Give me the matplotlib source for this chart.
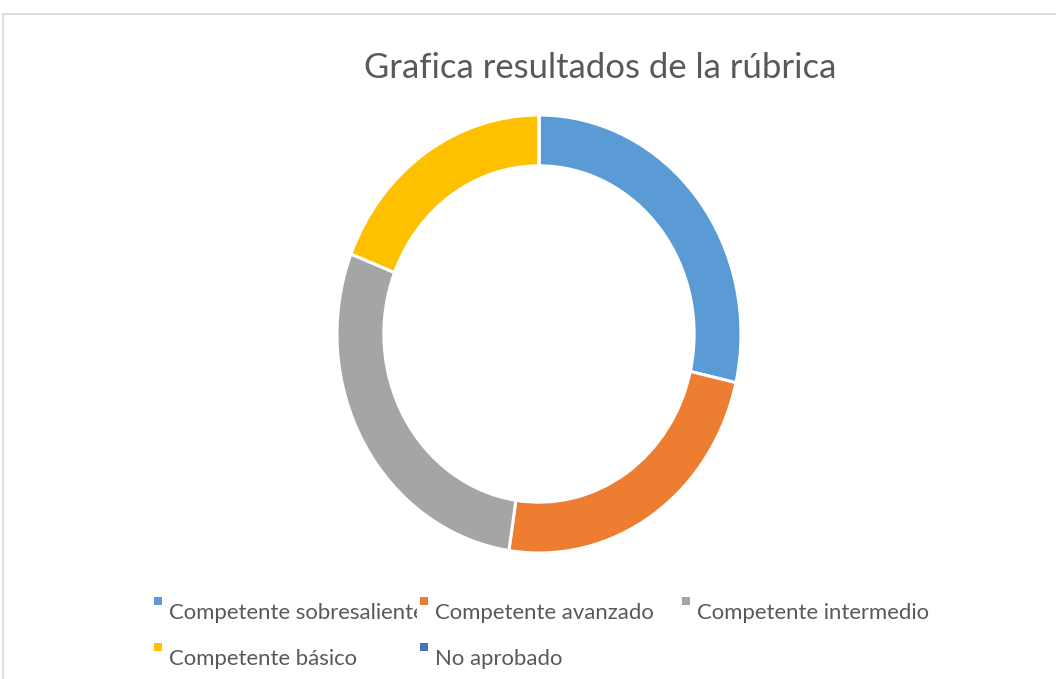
import matplotlib
matplotlib.use("Agg")
import matplotlib.pyplot as plt
from matplotlib.patches import Rectangle
from matplotlib.transforms import Bbox

categories = ["Competente sobresaliente", "Competente avanzado",
              "Competente intermedio", "Competente básico", "No aprobado"]
values = [6, 5, 6, 4, 0]
colors = ["#5B9BD5", "#ED7D31", "#A5A5A5", "#FFC000", "#4472C4"]
title = "Grafica resultados de la rúbrica"

W, H = 1056, 679
fig = plt.figure(figsize=(W / 100, H / 100), dpi=100)
FONT = "Lato"
TXT = "#595959"

# chart frame
fig.patches.append(Rectangle((3 / W, -0.1), 1.2, (H - 14) / H + 0.1,
                             transform=fig.transFigure, fill=False,
                             edgecolor="#D9D9D9", linewidth=1.3))

# donut (slightly elliptical as in reference)
cx, cy, rw, rh = 539, 334, 202, 219
ax = fig.add_axes([(cx - rw) / W, (H - cy - rh) / H, 2 * rw / W, 2 * rh / H])
ax.pie(values, colors=colors, startangle=90, counterclock=False, radius=1,
       wedgeprops=dict(width=0.232, edgecolor="white", linewidth=2.2))
ax.set_xlim(-1, 1)
ax.set_ylim(-1, 1)
ax.set_aspect("auto")
ax.axis("off")

fig.canvas.draw()
renderer = fig.canvas.get_renderer()

def fit_text(x, y, s, target_w, size0, **kw):
    t = fig.text(x / W, 1 - y / H, s, fontsize=size0, family=FONT, color=TXT, **kw)
    w = t.get_window_extent(renderer).width
    t.set_fontsize(size0 * target_w / w)
    return t

fit_text(600, 68, title, 471, 24, ha="center", va="center")

# legend
leg_pos = [(154, 611), (420, 611), (682, 611), (154, 657), (420, 657)]
ref = fig.text(0, 0, "Competente avanzado", fontsize=14, family=FONT)
lw = ref.get_window_extent(renderer).width
ref.remove()
lsize = 14 * 219 / lw
for i, (cat, col) in enumerate(zip(categories, colors)):
    mx, my = leg_pos[i]
    fig.patches.append(Rectangle((mx / W, 1 - (my - 6) / H), 8 / W, 8 / H,
                                 transform=fig.transFigure, facecolor=col,
                                 edgecolor="none"))
    t = fig.text((mx + 15) / W, 1 - (my + 2) / H, cat, fontsize=lsize,
                 family=FONT, color=TXT, ha="left", va="center")
    if i == 0:
        t.set_clip_box(Bbox.from_extents(0, 0, 417, H))
        t.set_clip_on(True)

fig.savefig("out.png", dpi=100, facecolor="white")
